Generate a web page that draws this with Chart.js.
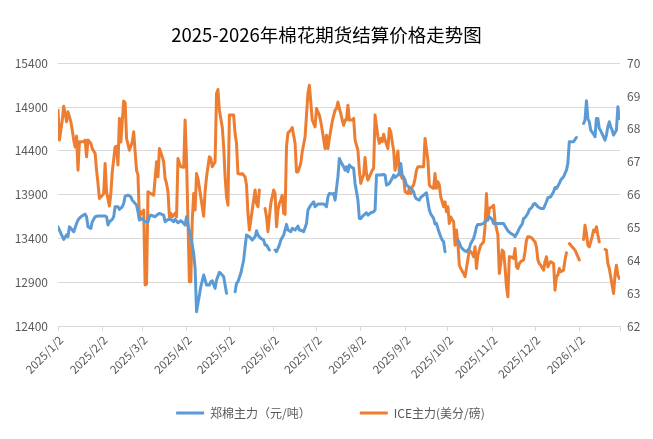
<!DOCTYPE html>
<html>
<head>
<meta charset="utf-8">
<script src="https://cdn.jsdelivr.net/npm/chart.js@4.4.1/dist/chart.umd.min.js"></script>
<style>
    html, body { margin: 0; padding: 0; background: #fff; }
</style>
</head>
<body>
<canvas id="chart" width="653" height="439"></canvas>
<script>
/*
 * 2025-2026 cotton futures settlement prices — Zhengzhou (left axis) vs ICE (right axis).
 */

// x values are days counted from 2025/1/2
var TICK_DAYS = [0, 31, 59, 90, 120, 151, 181, 212, 243, 273, 304, 334, 365, 393.5];
var TICK_LABELS = ["2025/1/2", "2025/2/2", "2025/3/2", "2025/4/2", "2025/5/2", "2025/6/2", "2025/7/2",
    "2025/8/2", "2025/9/2", "2025/10/2", "2025/11/2", "2025/12/2", "2026/1/2", ""];

// 郑棉主力 (元/吨), null = no trading (holiday gap)
var zcDay = [0, 2, 4, 6, 7, 8, 10, 11, 13, 14, 16, 19, 20, 21, 23, 24, 26, 28, 30, 33, 34, 35, 36, 38, 39,
    40, 42, 43, 45, 46, 47, 49, 51, 52, 55, 56, 57, 59, 61, 63, 64, 65, 68, 70, 71, 74, 75, 77, 79, 81,
    82, 84, 86, 88, 89, 90, 91, 93, 95, 96, 97, 99, 100, 102, 104, 106, 107, 108, 110, 111, 113, 114, 116,
    118, 121, 124, 125, 126, 128, 130, 131, 132, 134, 136, 138, 139, 140, 142, 144, 145, 146, 148, 150,
    152, 153, 155, 156, 158, 160, 161, 163, 164, 166, 168, 169, 171, 172, 174, 175, 177, 179, 180, 182,
    184, 186, 187, 188, 189, 190, 192, 193, 194, 196, 197, 198, 200, 201, 202, 203, 204, 205, 207, 208,
    210, 211, 212, 214, 216, 217, 219, 221, 222, 223, 225, 226, 228, 229, 230, 232, 233, 234, 235, 236,
    238, 239, 240, 241, 243, 244, 245, 247, 249, 250, 251, 253, 254, 256, 258, 259, 260, 261, 263, 264,
    265, 266, 267, 268, 269, 270, 271, 275, 280, 281, 282, 284, 286, 288, 289, 291, 292, 293, 294, 296,
    298, 299, 301, 302, 304, 305, 307, 309, 310, 312, 314, 315, 317, 319, 320, 322, 323, 325, 326, 327,
    329, 330, 331, 332, 333, 334, 336, 338, 340, 342, 343, 345, 347, 348, 349, 350, 351, 352, 354, 355,
    356, 357, 358, 359, 361, 362, 363, 365, 368, 369, 370, 371, 372, 373, 375, 376, 377, 378, 379, 380,
    382, 383, 384, 385, 386, 387, 388, 389, 391, 392, 393];
var zcPrice = [13533, 13457, 13388, 13440, 13421, 13533, 13495, 13476, 13570, 13609, 13647, 13677, 13647,
    13533, 13514, 13590, 13647, 13655, 13655, 13655, 13647, 13552, 13590, 13617, 13647, 13761, 13761,
    13731, 13761, 13799, 13883, 13894, 13875, 13837, 13780, 13704, 13609, 13628, 13590, 13590, 13647,
    13666, 13647, 13678, 13685, 13666, 13590, 13617, 13617, 13590, 13617, 13579, 13602, 13571, 13552,
    13647, 13552, 13419, 13229, 13058, 12564, 12754, 12849, 12982, 12868, 12868, 12906, 12917, 12830,
    12925, 13012, 13001, 12963, 12773, null, 12792, 12887, 12906, 13001, 13153, 13305, 13438, 13419,
    13381, 13419, 13487, 13438, 13400, 13381, 13324, 13324, 13267, null, 13267, 13248, 13324, 13381,
    13438, 13560, 13495, 13476, 13514, 13495, 13541, 13495, 13487, 13476, 13571, 13723, 13780, 13818,
    13761, 13792, 13792, 13792, 13780, 13761, 13875, 13913, 13906, 13913, 13837, 14104, 14313, 14275,
    14218, 14180, 14218, 14161, 14237, 14218, 14199, 14027, 13837, 13628, 13628, 13666, 13693, 13666,
    13693, 13704, 13723, 14123, 14123, 14123, 14130, 14123, 14008, 14027, 14058, 14085, 14123, 14096,
    14123, 14142, 14256, 14123, 14066, 14008, 13997, 13970, 13932, 13875, 13850, 13837, 13868, 13894,
    13921, 13818, 13723, 13678, 13628, 13564, 13571, 13514, 13465, 13419, 13381, 13362, 13248, null,
    13381, 13351, 13305, 13267, 13248, 13286, 13343, 13400, 13457, 13533, 13560, 13560, 13571, 13590,
    13617, 13647, 13617, 13571, 13571, 13571, 13571, 13571, 13514, 13487, 13457, 13438, 13419, 13476,
    13514, 13564, 13628, 13636, 13685, 13731, 13742, 13761, 13792, 13799, 13761, 13742, 13742, 13818,
    13864, 13875, 13932, 13982, 13970, 13997, 14027, 14066, 14104, 14142, 14180, 14256, 14503, 14503,
    14503, 14529, 14552, null, 14712, 14750, 14970, 14769, 14731, 14636, 14590, 14560, 14769, 14769,
    14655, 14628, 14560, 14522, 14579, 14674, 14731, 14674, 14636, 14579, 14636, 14902, 14769];

// ICE主力 (美分/磅)
var iceDay = [0, 1, 3, 4, 5, 6, 7, 9, 10, 11, 12, 13, 14, 15, 16, 18, 19, 20, 21, 23, 24, 26, 27, 28, 29,
    30, 32, 33, 34, 36, 37, 38, 40, 41, 42, 43, 44, 46, 47, 48, 50, 52, 53, 54, 55, 56, 57, 58, 59, 60,
    61, 62, 63, 65, 67, 69, 70, 71, 73, 74, 75, 76, 77, 78, 79, 80, 82, 83, 84, 85, 86, 88, 89, 90, 91,
    92, 93, 94, 95, 96, 97, 98, 100, 101, 102, 103, 104, 106, 107, 108, 110, 111, 112, 113, 115, 116,
    117, 118, 119, 120, 122, 123, 124, 125, 126, 128, 129, 131, 132, 133, 134, 135, 136, 138, 139, 140,
    141, 143, 145, 146, 147, 148, 149, 151, 152, 153, 154, 155, 156, 157, 158, 159, 160, 161, 163, 164,
    166, 167, 168, 170, 171, 173, 174, 175, 176, 177, 178, 180, 181, 182, 183, 184, 185, 187, 188, 189,
    190, 191, 192, 194, 195, 196, 197, 198, 199, 200, 201, 202, 203, 204, 206, 207, 208, 210, 211, 212,
    213, 214, 215, 216, 217, 219, 220, 221, 222, 224, 225, 226, 227, 228, 229, 231, 232, 233, 234, 235,
    236, 238, 239, 240, 241, 242, 243, 245, 246, 247, 248, 249, 250, 251, 252, 253, 255, 256, 257, 259,
    260, 261, 263, 264, 265, 266, 267, 268, 270, 271, 272, 273, 274, 275, 276, 277, 278, 279, 280, 281,
    282, 284, 285, 286, 288, 289, 290, 291, 292, 293, 294, 295, 296, 298, 299, 300, 301, 302, 304, 305,
    306, 308, 309, 310, 311, 312, 313, 314, 315, 316, 317, 319, 320, 321, 322, 323, 324, 326, 327, 328,
    329, 330, 332, 333, 334, 335, 336, 337, 338, 340, 341, 342, 343, 344, 345, 347, 348, 349, 350, 351,
    352, 354, 355, 356, 357, 358, 359, 361, 362, 363, 364, 365, 366, 368, 369, 370, 371, 372, 373, 374,
    375, 376, 377, 378, 379, 381, 383, 384, 385, 386, 387, 389, 390, 391, 392, 393];
var icePrice = [68.57, 67.66, 68.27, 68.69, 68.47, 68.22, 68.52, 68.22, 67.96, 67.66, 67.45, 67.78, 66.74,
    67.61, 67.61, 67.61, 67.66, 67.15, 67.66, 67.56, 67.40, 67.25, 66.74, 66.34, 65.88, 65.93, 66.03,
    66.95, 66.09, 65.65, 66.03, 66.69, 67.45, 67.47, 66.90, 68.32, 67.60, 68.85, 68.80, 67.71, 67.35,
    67.60, 67.91, 67.30, 66.74, 66.60, 65.24, 65.48, 65.43, 65.53, 63.25, 63.28, 66.09, 66.03, 65.98,
    67.00, 66.54, 67.40, 67.15, 67.00, 66.49, 66.34, 66.09, 65.32, 65.43, 65.32, 65.43, 65.32, 67.10,
    66.95, 66.85, 66.83, 68.27, 67.05, 65.22, 63.35, 63.35, 65.22, 66.03, 65.53, 66.64, 66.49, 65.93,
    65.63, 65.34, 66.09, 66.54, 67.15, 67.10, 66.85, 67.00, 69.08, 69.20, 68.57, 68.06, 67.45, 66.54,
    65.93, 65.68, 68.42, 68.42, 68.42, 67.86, 67.56, 66.64, 66.62, 66.64, 66.54, 66.29, 65.43, 64.92,
    65.22, 65.53, 66.14, 65.73, 65.63, 66.14, null, 65.58, 65.32, 64.87, 65.32, 65.73, 66.14, 66.03,
    65.02, 65.53, 65.73, 65.83, 65.98, 65.43, 65.40, 67.47, 67.88, 67.96, 68.04, 67.56, 66.69, 66.69,
    66.95, 67.30, 67.76, 68.42, 69.08, 69.33, 68.82, 68.27, 68.06, 68.62, 68.52, 68.42, 68.22, 67.96,
    67.40, 67.81, 67.40, 67.71, 67.96, 68.22, 68.57, 68.62, 68.82, 68.62, 68.47, 68.27, 68.11, 68.27,
    68.27, 68.72, 68.27, 68.27, 68.32, 67.66, 67.35, 66.74, 66.34, 66.49, 66.59, 67.13, 66.64, 66.44,
    66.64, 66.74, 66.80, 68.42, 67.76, 67.56, 67.71, 67.61, 67.84, 67.66, 67.40, 68.01, 67.91, 67.61,
    67.35, 66.74, 67.33, 66.64, 66.59, 66.49, 66.54, 66.09, 66.03, 66.19, 66.03, 66.24, 66.29, 66.49,
    66.74, 66.85, 66.85, 66.85, 66.85, 67.71, 67.05, 66.29, 66.24, 66.19, 66.64, 66.19, 66.39, 66.29,
    65.93, 65.63, 65.78, 65.48, 65.63, 65.12, 65.32, 65.24, 65.17, 64.46, 64.92, 64.51, 63.85, 63.75,
    63.60, 63.50, 63.75, 64.31, 64.26, 64.21, 64.11, 64.41, 63.75, 64.16, 64.31, 64.46, 64.56, 65.02,
    66.03, 65.22, 65.58, 65.63, 65.68, 65.17, 64.77, 63.60, 63.90, 64.31, 64.26, 63.80, 63.19, 62.89,
    64.11, 64.11, 64.06, 64.36, 63.80, 63.75, 63.90, 63.96, 64.01, 64.26, 64.61, 64.72, 64.72, 64.67,
    64.61, 64.56, 64.41, 64.01, 63.90, 63.85, 63.70, 63.96, 64.11, 63.80, 63.90, 63.96, 63.90, 63.09,
    63.50, 63.55, 63.75, 63.65, 63.70, 64.01, 64.23, null, 64.51, 64.46, 64.36, 64.31, 64.21, 64.11,
    64.01, null, 64.63, 65.07, 64.82, 64.46, 64.41, 64.56, 64.72, 64.92, 64.87, 65.02, 64.77, 64.56,
    null, 64.33, 64.31, 63.90, 63.75, 63.50, 62.99, 63.55, 63.85, 63.55, 63.45];

var TEXT = "#595959";
var GRID = "#D9D9D9";
var FONT = "'Noto Sans CJK SC', 'Noto Sans', sans-serif";

function toPoints(days, values) {
    return days.map(function (d, i) { return { x: d, y: values[i] }; });
}

function plainNumber(value) {
    return String(value);
}

// nudge the legend right like the original, and let the slanted date labels
// run down past the (short) x-axis box so they are not clipped
var layoutTweaks = {
    id: "layoutTweaks",
    afterLayout: function (chart) {
        chart.legend.left += 4;
        chart.legend.right += 4;
        chart.scales.x.bottom = chart.height;
    }
};

new Chart(document.getElementById("chart"), {
    type: "line",
    data: {
        datasets: [{
            label: "郑棉主力（元/吨）",
            data: toPoints(zcDay, zcPrice),
            yAxisID: "y",
            borderColor: "#5B9BD5",
            backgroundColor: "#5B9BD5",
            borderWidth: 3,
            borderJoinStyle: "round",
            borderCapStyle: "round",
            pointRadius: 0,
            tension: 0,
            spanGaps: false
        }, {
            label: "ICE主力(美分/磅)",
            data: toPoints(iceDay, icePrice),
            yAxisID: "y1",
            borderColor: "#ED7D31",
            backgroundColor: "#ED7D31",
            borderWidth: 3,
            borderJoinStyle: "round",
            borderCapStyle: "round",
            pointRadius: 0,
            tension: 0,
            spanGaps: false
        }]
    },
    options: {
        responsive: false,
        animation: false,
        devicePixelRatio: 1,
        layout: { padding: { top: 0, left: 0, right: 0, bottom: 10 } },
        plugins: {
            title: {
                display: true,
                text: "2025-2026年棉花期货结算价格走势图",
                color: "#000",
                font: { family: FONT, size: 18.5, weight: "normal" },
                padding: { top: 24, bottom: 17 }
            },
            legend: {
                position: "bottom",
                labels: {
                    color: TEXT,
                    font: { family: FONT, size: 12 },
                    usePointStyle: true,
                    pointStyle: "line",
                    pointStyleWidth: 28,
                    padding: 49
                }
            },
            tooltip: { enabled: false }
        },
        scales: {
            x: {
                type: "linear",
                min: 0,
                max: 393.5,
                afterBuildTicks: function (scale) {
                    scale.ticks = TICK_DAYS.map(function (v) { return { value: v }; });
                },
                afterFit: function (scale) {
                    scale.height = 32;
                    scale.paddingLeft = 0;
                    scale.paddingRight = 0;
                },
                ticks: {
                    autoSkip: false,
                    minRotation: 45,
                    maxRotation: 45,
                    padding: 2,
                    labelOffset: 3,
                    color: TEXT,
                    font: { family: FONT, size: 11.5 },
                    callback: function (value, index) { return TICK_LABELS[index]; }
                },
                grid: { drawOnChartArea: false, drawTicks: true, tickLength: 5, color: GRID },
                border: { color: GRID }
            },
            y: {
                position: "left",
                min: 12400,
                max: 15400,
                afterFit: function (scale) { scale.width = 58; },
                ticks: { stepSize: 500, padding: 10, color: TEXT, font: { family: FONT, size: 12 }, callback: plainNumber },
                grid: { color: GRID, drawTicks: false },
                border: { display: false }
            },
            y1: {
                position: "right",
                min: 62,
                max: 70,
                afterFit: function (scale) { scale.width = 33; },
                ticks: { stepSize: 1, padding: 7, color: TEXT, font: { family: FONT, size: 12 }, callback: plainNumber },
                grid: { drawOnChartArea: false, drawTicks: false },
                border: { display: false }
            }
        }
    },
    plugins: [layoutTweaks]
});
</script>
</body>
</html>
